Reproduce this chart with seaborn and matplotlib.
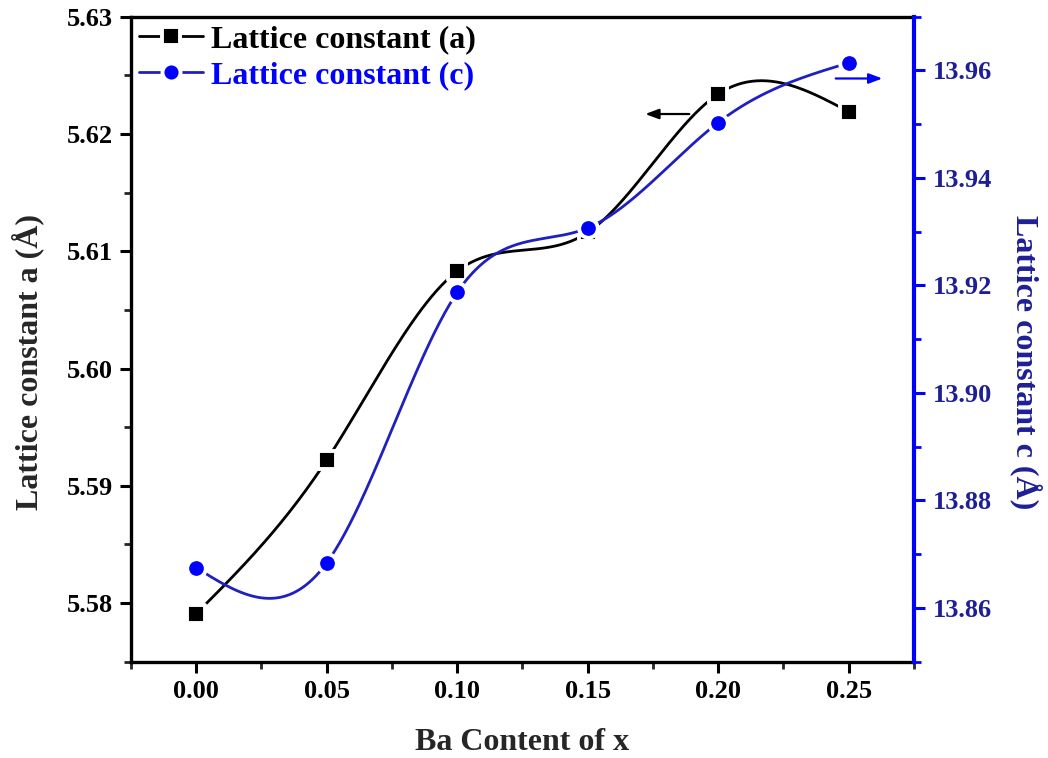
import numpy as np
import pandas as pd
import matplotlib
matplotlib.use("Agg")
import matplotlib.pyplot as plt
from matplotlib.lines import Line2D
from matplotlib.ticker import MultipleLocator, FormatStrFormatter
import seaborn as sns

# Ba content and measured lattice constants
ba_content = [0.00, 0.05, 0.10, 0.15, 0.20, 0.25]
lattice_a = [5.5791, 5.5922, 5.6083, 5.6116, 5.6234, 5.6219]
lattice_c = [13.8675, 13.8684, 13.9187, 13.9307, 13.9503, 13.9614]

label_a = "Lattice constant (a)"
label_c = "Lattice constant (c)"
xlabel = "Ba Content of x"
ylabel_a = "Lattice constant a (Å)"
ylabel_c = "Lattice constant c (Å)"

BLUE = "#0000ff"
BLUE_LINE = "#2020c0"
BLUE_TEXT = "#1e1e96"


def natural_cubic_spline(x, y, n=400):
    """Smooth connecting curve through the points (natural cubic spline)."""
    x = np.asarray(x, float)
    y = np.asarray(y, float)
    k = len(x)
    h = np.diff(x)
    A = np.zeros((k, k))
    r = np.zeros(k)
    A[0, 0] = A[-1, -1] = 1.0
    for i in range(1, k - 1):
        A[i, i - 1] = h[i - 1]
        A[i, i] = 2 * (h[i - 1] + h[i])
        A[i, i + 1] = h[i]
        r[i] = 6 * ((y[i + 1] - y[i]) / h[i] - (y[i] - y[i - 1]) / h[i - 1])
    M = np.linalg.solve(A, r)
    xs = np.linspace(x[0], x[-1], n)
    idx = np.clip(np.searchsorted(x, xs) - 1, 0, k - 2)
    x0, x1 = x[idx], x[idx + 1]
    hh = x1 - x0
    t0, t1 = x1 - xs, xs - x0
    ys = (M[idx] * t0 ** 3 + M[idx + 1] * t1 ** 3) / (6 * hh) \
        + (y[idx] / hh - M[idx] * hh / 6) * t0 \
        + (y[idx + 1] / hh - M[idx + 1] * hh / 6) * t1
    return xs, ys


sns.set_style("ticks")
plt.rcParams["font.family"] = ["Liberation Serif", "DejaVu Serif"]
plt.rcParams["font.weight"] = "bold"
plt.rcParams["axes.labelweight"] = "bold"

fig = plt.figure(figsize=(10.48, 7.58), dpi=100)
ax = fig.add_axes([0.125, 0.127, 0.747, 0.851])
ax2 = ax.twinx()

xa, ya = natural_cubic_spline(ba_content, lattice_a)
xc, yc = natural_cubic_spline(ba_content, lattice_c)
curve_a = pd.DataFrame({"x": xa, "y": ya})
curve_c = pd.DataFrame({"x": xc, "y": yc})
points = pd.DataFrame({"x": ba_content, "a": lattice_a, "c": lattice_c})

sns.lineplot(data=curve_a, x="x", y="y", ax=ax, color="black", lw=2.0, sort=False)
sns.scatterplot(data=points, x="x", y="a", ax=ax, marker="s", s=160,
                color="black", edgecolor="white", linewidth=2.8, zorder=5)

sns.lineplot(data=curve_c, x="x", y="y", ax=ax2, color=BLUE_LINE, lw=2.0, sort=False)
sns.scatterplot(data=points, x="x", y="c", ax=ax2, marker="o", s=180,
                color=BLUE, edgecolor="white", linewidth=2.8, zorder=5)

# axis ranges and ticks
ax.set_xlim(-0.025, 0.275)
ax.set_ylim(5.575, 5.63)
ax2.set_ylim(13.85, 13.97)

ax.xaxis.set_major_locator(MultipleLocator(0.05))
ax.xaxis.set_minor_locator(MultipleLocator(0.025))
ax.yaxis.set_major_locator(MultipleLocator(0.01))
ax.yaxis.set_minor_locator(MultipleLocator(0.005))
ax2.yaxis.set_major_locator(MultipleLocator(0.02))
ax2.yaxis.set_minor_locator(MultipleLocator(0.01))
ax.xaxis.set_major_formatter(FormatStrFormatter("%.2f"))
ax.yaxis.set_major_formatter(FormatStrFormatter("%.2f"))
ax2.yaxis.set_major_formatter(FormatStrFormatter("%.2f"))

ax.tick_params(axis="both", which="major", direction="out", length=8, width=2.2,
               labelsize=19, colors="black", top=False, right=False, pad=5)
ax.tick_params(axis="both", which="minor", direction="out", length=5, width=2.0,
               top=False, right=False)
ax2.tick_params(axis="y", which="major", direction="out", length=8, width=2.2,
                labelsize=19, color=BLUE, labelcolor=BLUE_TEXT, pad=6)
ax2.tick_params(axis="y", which="minor", direction="out", length=5, width=2.0,
                color=BLUE)
for lab in ax.get_xticklabels() + ax.get_yticklabels() + ax2.get_yticklabels():
    lab.set_fontweight("bold")

for side in ["top", "left", "bottom"]:
    ax.spines[side].set_linewidth(2.4)
    ax.spines[side].set_color("black")
ax.spines["right"].set_visible(False)
for side in ["top", "left", "bottom"]:
    ax2.spines[side].set_visible(False)
ax2.spines["right"].set_visible(True)
ax2.spines["right"].set_color(BLUE)
ax2.spines["right"].set_linewidth(3.0)

ax.set_xlabel(xlabel, fontsize=23, fontweight="bold", labelpad=18)
ax.set_ylabel(ylabel_a, fontsize=23, fontweight="bold", labelpad=16)
ax2.set_ylabel(ylabel_c, fontsize=23, fontweight="bold", color=BLUE_TEXT,
               rotation=270, labelpad=36)
ax.yaxis.label.set_y(0.465)
ax2.yaxis.label.set_y(0.465)

# arrows pointing each curve to its own axis
ax.annotate("", xy=(0.171, 5.6217), xytext=(0.190, 5.6217),
            arrowprops=dict(arrowstyle="-|>,head_length=0.8,head_width=0.3",
                            color="black", lw=1.6))
ax2.annotate("", xy=(0.264, 13.9585), xytext=(0.244, 13.9585),
             arrowprops=dict(arrowstyle="-|>,head_length=0.8,head_width=0.3",
                             color=BLUE, lw=1.6))

handles = [
    Line2D([0], [0], color="black", lw=2.0, marker="s", markersize=12.5,
           markerfacecolor="black", markeredgecolor="white", markeredgewidth=2.8),
    Line2D([0], [0], color=BLUE_LINE, lw=2.0, marker="o", markersize=13,
           markerfacecolor=BLUE, markeredgecolor="white", markeredgewidth=2.8),
]
leg = ax2.legend(handles, [label_a, label_c], loc="upper left", frameon=False,
                 fontsize=23, handlelength=2.0, handletextpad=0.25,
                 borderaxespad=0.1, labelspacing=0.2, borderpad=0.15)
leg.get_texts()[0].set_color("black")
leg.get_texts()[1].set_color(BLUE)
for t in leg.get_texts():
    t.set_fontweight("bold")
leg.set_zorder(10)

ax.set_zorder(1)
ax2.set_zorder(2)
ax.patch.set_visible(True)
ax.patch.set_facecolor("white")
ax2.patch.set_visible(False)

fig.savefig("out.png", dpi=100, facecolor="white")
